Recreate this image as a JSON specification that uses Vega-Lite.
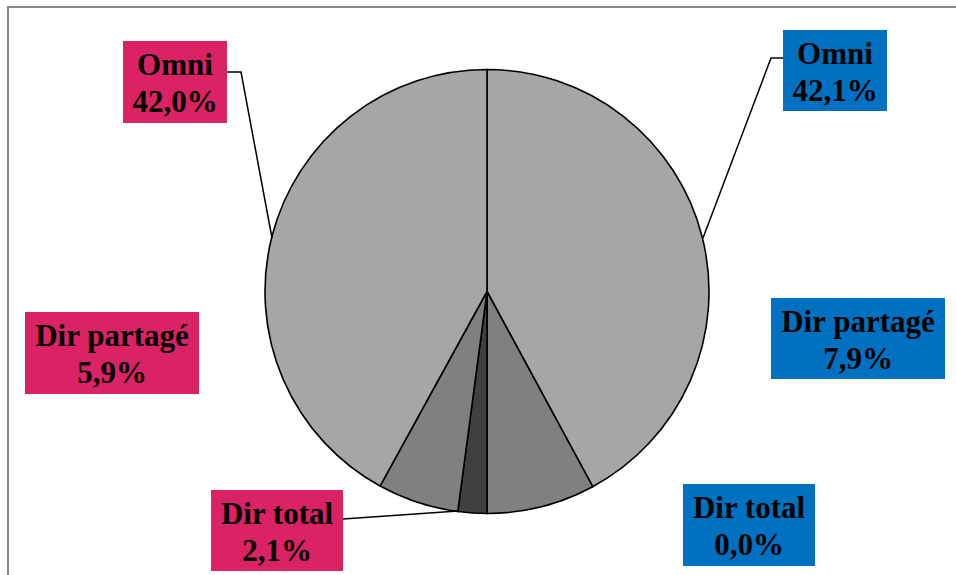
{
  "$schema": "https://vega.github.io/schema/vega-lite/v6.json",
  "width": 938,
  "height": 567,
  "autosize": {"type": "none"},
  "padding": {"left": 18, "top": 8, "right": 0, "bottom": 0},
  "background": "white",
  "config": {"view": {"stroke": null}},
  "datasets": {
    "parts": [
      {"cote": "droite", "type": "Omni", "pct": 42.1, "ordre": 1},
      {"cote": "droite", "type": "Dir partagé", "pct": 7.9, "ordre": 2},
      {"cote": "droite", "type": "Dir total", "pct": 0.0, "ordre": 3},
      {"cote": "gauche", "type": "Dir total", "pct": 2.1, "ordre": 4},
      {"cote": "gauche", "type": "Dir partagé", "pct": 5.9, "ordre": 5},
      {"cote": "gauche", "type": "Omni", "pct": 42.0, "ordre": 6}
    ],
    "etiquettes": [
      {"cote": "droite", "type": "Omni", "pct": 42.1, "x0": 783, "x1": 887, "y0": 30, "y1": 111},
      {"cote": "droite", "type": "Dir partagé", "pct": 7.9, "x0": 771, "x1": 945, "y0": 298, "y1": 379},
      {"cote": "droite", "type": "Dir total", "pct": 0.0, "x0": 683, "x1": 815, "y0": 484, "y1": 566},
      {"cote": "gauche", "type": "Omni", "pct": 42.0, "x0": 123, "x1": 227, "y0": 41, "y1": 123},
      {"cote": "gauche", "type": "Dir partagé", "pct": 5.9, "x0": 25, "x1": 199, "y0": 312, "y1": 394},
      {"cote": "gauche", "type": "Dir total", "pct": 2.1, "x0": 211, "x1": 343, "y0": 490, "y1": 571}
    ],
    "traits": [
      {"trait": "Omni gauche", "pt": 1, "px": 227, "py": 72},
      {"trait": "Omni gauche", "pt": 2, "px": 241, "py": 72},
      {"trait": "Omni gauche", "pt": 3, "px": 272, "py": 238},
      {"trait": "Omni droite", "pt": 1, "px": 783, "py": 58},
      {"trait": "Omni droite", "pt": 2, "px": 771, "py": 58},
      {"trait": "Omni droite", "pt": 3, "px": 703, "py": 238},
      {"trait": "Dir total gauche", "pt": 1, "px": 343, "py": 519},
      {"trait": "Dir total gauche", "pt": 2, "px": 458, "py": 511}
    ]
  },
  "resolve": {"scale": {"color": "independent"}},
  "layer": [
    {
      "data": {"values": [{"bord": "haut"}]},
      "mark": {"type": "rule", "color": "#888888", "strokeWidth": 2},
      "encoding": {
        "x": {"datum": 7, "type": "quantitative", "scale": {"domain": [18, 956], "nice": false, "zero": false}, "axis": null},
        "x2": {"datum": 956},
        "y": {"datum": 7, "type": "quantitative", "scale": {"domain": [8, 575], "reverse": true, "nice": false, "zero": false}, "axis": null}
      }
    },
    {
      "data": {"values": [{"bord": "gauche"}]},
      "mark": {"type": "rule", "color": "#888888", "strokeWidth": 2},
      "encoding": {
        "x": {"datum": 8, "type": "quantitative", "scale": {"domain": [18, 956], "nice": false, "zero": false}, "axis": null},
        "y": {"datum": 6, "type": "quantitative", "scale": {"domain": [8, 575], "reverse": true, "nice": false, "zero": false}, "axis": null},
        "y2": {"datum": 575}
      }
    },
    {
      "data": {"name": "parts"},
      "mark": {"type": "arc", "outerRadius": 222, "stroke": "black", "strokeWidth": 1.6},
      "encoding": {
        "theta": {"field": "pct", "type": "quantitative", "stack": true},
        "order": {"field": "ordre", "type": "quantitative"},
        "color": {
          "field": "type",
          "type": "nominal",
          "scale": {"domain": ["Omni", "Dir partagé", "Dir total"], "range": ["#a6a6a6", "#808080", "#404040"]},
          "legend": null
        }
      }
    },
    {
      "data": {"name": "traits"},
      "mark": {"type": "line", "color": "black", "strokeWidth": 1.5},
      "encoding": {
        "x": {"field": "px", "type": "quantitative", "scale": {"domain": [18, 956], "nice": false, "zero": false}, "axis": null},
        "y": {"field": "py", "type": "quantitative", "scale": {"domain": [8, 575], "reverse": true, "nice": false, "zero": false}, "axis": null},
        "detail": {"field": "trait"},
        "order": {"field": "pt", "type": "quantitative"}
      }
    },
    {
      "data": {"name": "etiquettes"},
      "mark": {"type": "rect"},
      "encoding": {
        "x": {"field": "x0", "type": "quantitative", "scale": {"domain": [18, 956], "nice": false, "zero": false}, "axis": null},
        "x2": {"field": "x1"},
        "y": {"field": "y0", "type": "quantitative", "scale": {"domain": [8, 575], "reverse": true, "nice": false, "zero": false}, "axis": null},
        "y2": {"field": "y1"},
        "color": {
          "field": "cote",
          "type": "nominal",
          "scale": {"domain": ["droite", "gauche"], "range": ["#0070c0", "#da2265"]},
          "legend": null
        }
      }
    },
    {
      "data": {"name": "etiquettes"},
      "transform": [
        {"calculate": "(datum.x0 + datum.x1) / 2", "as": "cx"},
        {"calculate": "(datum.y0 + datum.y1) / 2 - 16", "as": "cy"},
        {"calculate": "datum.type + '\\n' + replace(format(datum.pct, '.1f'), '.', ',') + '%'", "as": "lab"}
      ],
      "mark": {
        "type": "text",
        "font": "Liberation Serif",
        "fontWeight": "bold",
        "fontSize": 31,
        "lineHeight": 37,
        "lineBreak": "\n",
        "align": "center",
        "baseline": "middle",
        "color": "black"
      },
      "encoding": {
        "x": {"field": "cx", "type": "quantitative", "scale": {"domain": [18, 956], "nice": false, "zero": false}, "axis": null},
        "y": {"field": "cy", "type": "quantitative", "scale": {"domain": [8, 575], "reverse": true, "nice": false, "zero": false}, "axis": null},
        "text": {"field": "lab", "type": "nominal"}
      }
    }
  ]
}
